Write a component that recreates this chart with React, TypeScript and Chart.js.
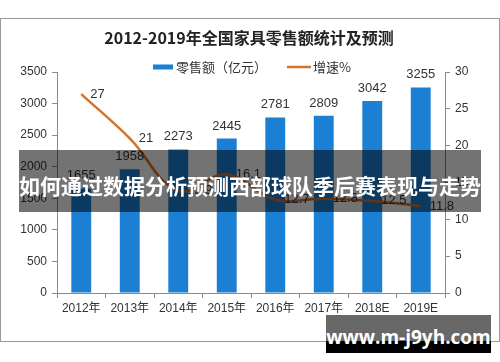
import React, { useEffect, useRef } from "react";
import { Chart, registerables } from "chart.js";

Chart.register(...registerables);

const TITLE = "2012-2019年全国家具零售额统计及预测";
const categories = ["2012年", "2013年", "2014年", "2015年", "2016年", "2017年", "2018E", "2019E"];
const retailSales = [1655, 1958, 2273, 2445, 2781, 2809, 3042, 3255];
const growthRate = [27, 21, 13.9, 16.1, 12.7, 12.8, 12.5, 11.8];
const salesLabel = "零售额（亿元）";
const growthLabel = "增速%";
const BANNER = "如何通过数据分析预测西部球队季后赛表现与走势";
const WATERMARK = "www.m-j9yh.com";

const BAR_COLOR = "#1b7fd3";
const LINE_COLOR = "#d4742c";
const TEXT_COLOR = "#333333";
const AXIS_COLOR = "#8a8a8a";
const NUM_FONT = "'Liberation Sans', 'Noto Sans CJK SC', sans-serif";
const CJK_FONT = "'Noto Sans CJK SC', 'Liberation Sans', sans-serif";

const decorPlugin = {
  id: "decor",
  afterDatasetsDraw(chart: any) {
    const ctx = chart.ctx;
    ctx.save();
    ctx.fillStyle = TEXT_COLOR;
    ctx.font = `13px ${NUM_FONT}`;
    const barMeta = chart.getDatasetMeta(0);
    ctx.textAlign = "center";
    ctx.textBaseline = "alphabetic";
    barMeta.data.forEach((el: any, i: number) => {
      ctx.fillText(String(retailSales[i]), el.x, el.y - 9);
    });
    const lineMeta = chart.getDatasetMeta(1);
    ctx.textAlign = "left";
    ctx.textBaseline = "middle";
    lineMeta.data.forEach((el: any, i: number) => {
      ctx.fillText(String(growthRate[i]), el.x + 9, el.y);
    });
    ctx.restore();
  },
  afterDraw(chart: any) {
    const ctx = chart.ctx;
    ctx.save();
    ctx.fillStyle = "#222";
    ctx.font = `bold 16px ${CJK_FONT}`;
    ctx.textAlign = "center";
    ctx.textBaseline = "middle";
    ctx.fillText(TITLE, 249, 38);
    ctx.font = `13px ${CJK_FONT}`;
    ctx.textAlign = "left";
    const w1 = ctx.measureText(salesLabel).width;
    const w2 = ctx.measureText(growthLabel).width;
    const total = 20 + 3 + w1 + 20 + 24 + 2 + w2;
    let x = 252 - total / 2;
    const y = 67;
    const ds = chart.data.datasets;
    ctx.fillStyle = ds[0].backgroundColor;
    ctx.fillRect(x, y - 2.5, 20, 5);
    x += 23;
    ctx.fillStyle = TEXT_COLOR;
    ctx.fillText(ds[0].label, x, y);
    x += w1 + 20;
    ctx.strokeStyle = ds[1].borderColor;
    ctx.lineWidth = 2.5;
    ctx.beginPath();
    ctx.moveTo(x, y);
    ctx.lineTo(x + 24, y);
    ctx.stroke();
    x += 26;
    ctx.fillText(ds[1].label, x, y);
    ctx.restore();
  },
};

export default function App() {
  const ref = useRef<HTMLCanvasElement | null>(null);

  useEffect(() => {
    if (!ref.current) return;
    const tickFont = { size: 12, family: NUM_FONT };
    const plain = (v: any) => String(v);
    const chart = new Chart(ref.current, {
      type: "bar",
      data: {
        labels: categories,
        datasets: [
          {
            type: "bar",
            label: salesLabel,
            data: retailSales,
            backgroundColor: BAR_COLOR,
            borderWidth: 0,
            barPercentage: 0.41,
            categoryPercentage: 1,
            yAxisID: "y",
            order: 1,
          } as any,
          {
            type: "line",
            label: growthLabel,
            data: growthRate,
            borderColor: LINE_COLOR,
            backgroundColor: LINE_COLOR,
            borderWidth: 2.5,
            pointRadius: 0,
            tension: 0.4,
            fill: false,
            yAxisID: "y1",
            order: 0,
          } as any,
        ],
      },
      options: {
        responsive: false,
        animation: false,
        layout: { padding: { top: 72, left: 0, right: 0, bottom: 0 } },
        plugins: {
          legend: { display: false },
          title: { display: false },
          tooltip: { enabled: false },
        },
        scales: {
          x: {
            grid: {
              display: true,
              drawOnChartArea: false,
              drawTicks: true,
              tickLength: 5,
              color: AXIS_COLOR,
              offset: true,
            },
            border: { display: true, color: AXIS_COLOR },
            ticks: { font: tickFont, color: TEXT_COLOR, padding: 3, maxRotation: 0, autoSkip: false },
            afterFit: (s: any) => {
              s.height = 69;
            },
          },
          y: {
            position: "left",
            min: 0,
            max: 3500,
            ticks: { stepSize: 500, font: tickFont, color: TEXT_COLOR, padding: 5, callback: plain },
            grid: { drawOnChartArea: false, drawTicks: true, tickLength: 5, color: AXIS_COLOR },
            border: { display: true, color: AXIS_COLOR },
            afterFit: (s: any) => {
              s.width = 57;
            },
          },
          y1: {
            position: "right",
            min: 0,
            max: 30,
            ticks: { stepSize: 5, font: tickFont, color: TEXT_COLOR, padding: 5, callback: plain },
            grid: { drawOnChartArea: false, drawTicks: true, tickLength: 5, color: AXIS_COLOR },
            border: { display: true, color: AXIS_COLOR },
            afterFit: (s: any) => {
              s.width = 55;
            },
          },
        },
      } as any,
      plugins: [decorPlugin],
    });
    return () => chart.destroy();
  }, []);

  return (
    <div
      style={{
        position: "fixed",
        left: 0,
        top: 0,
        width: 500,
        height: 362,
        background: "#ffffff",
        overflow: "hidden",
      }}
    >
      <div
        style={{
          position: "absolute",
          left: 0,
          top: 18,
          width: 500,
          height: 324,
          border: "1px solid #9a9a9a",
          boxSizing: "border-box",
        }}
      />
      <canvas ref={ref} width={500} height={362} style={{ position: "absolute", left: 0, top: 0 }} />
      <div
        style={{
          position: "absolute",
          left: 19,
          top: 150,
          width: 462,
          height: 62,
          background: "rgba(0,0,0,0.55)",
          color: "#ffffff",
          fontFamily: CJK_FONT,
          fontWeight: "bold",
          fontSize: 21,
          lineHeight: "62px",
          textAlign: "center",
          whiteSpace: "nowrap",
          paddingTop: 4,
          boxSizing: "border-box",
        }}
      >
        {BANNER}
      </div>
      <div
        style={{
          position: "absolute",
          left: 326,
          top: 315,
          width: 165,
          height: 26,
          background: "#686868",
        }}
      />
      <div
        style={{
          position: "absolute",
          left: 326,
          top: 341,
          width: 165,
          height: 12,
          background: "#000000",
        }}
      />
      <div
        style={{
          position: "absolute",
          left: 326,
          top: 315,
          width: 165,
          height: 38,
          color: "#ffffff",
          fontFamily: "'Open Sans', 'DejaVu Sans', sans-serif",
          fontWeight: "bold",
          fontSize: 19,
          lineHeight: "38px",
          textAlign: "center",
          whiteSpace: "nowrap",
          paddingTop: 3,
          boxSizing: "border-box",
        }}
      >
        {WATERMARK}
      </div>
    </div>
  );
}
